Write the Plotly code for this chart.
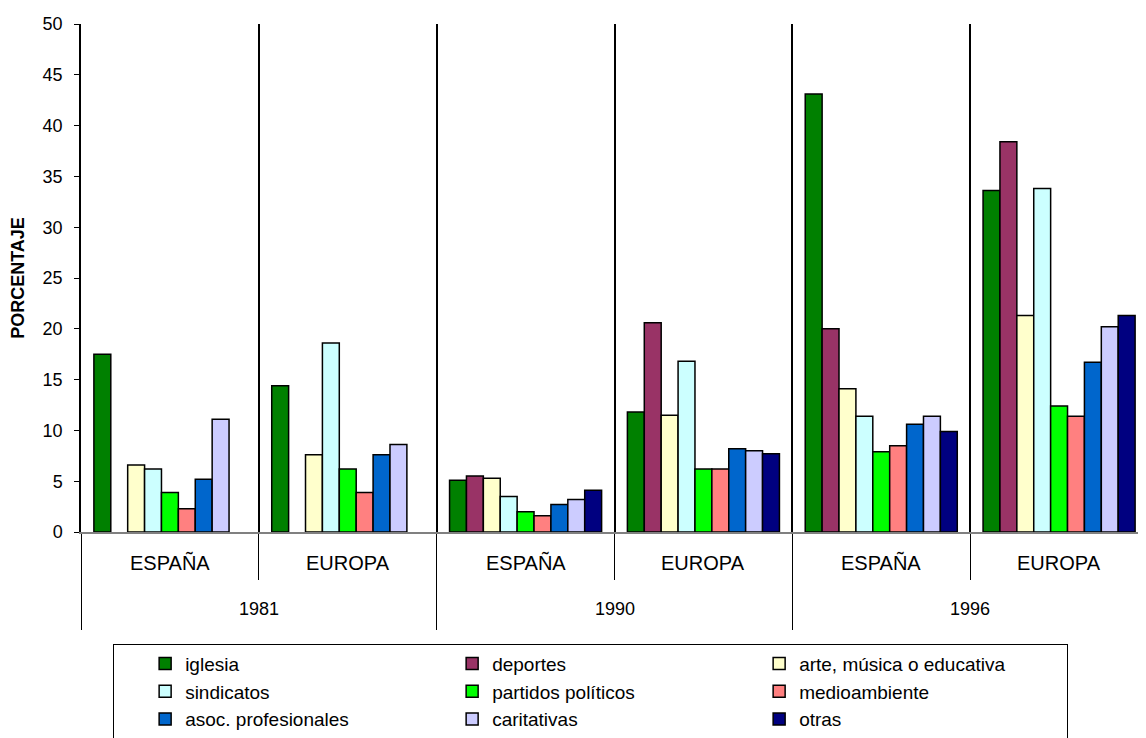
import plotly.graph_objects as go

years = ["1981", "1990", "1996"]
countries = ["ESPAÑA", "EUROPA"]
groups = ["1981 ESPAÑA", "1981 EUROPA", "1990 ESPAÑA", "1990 EUROPA", "1996 ESPAÑA", "1996 EUROPA"]

series_names = ["iglesia", "deportes", "arte, música o educativa", "sindicatos",
                "partidos políticos", "medioambiente", "asoc. profesionales",
                "caritativas", "otras"]

iglesia = [17.5, 14.4, 5.1, 11.8, 43.1, 33.6]
deportes = [None, None, 5.5, 20.6, 20.0, 38.4]
arte = [6.6, 7.6, 5.3, 11.5, 14.1, 21.3]
sindicatos = [6.2, 18.6, 3.5, 16.8, 11.4, 33.8]
partidos = [3.9, 6.2, 2.0, 6.2, 7.9, 12.4]
medioambiente = [2.3, 3.9, 1.6, 6.2, 8.5, 11.4]
asoc = [5.2, 7.6, 2.7, 8.2, 10.6, 16.7]
caritativas = [11.1, 8.6, 3.2, 8.0, 11.4, 20.2]
otras = [None, None, 4.1, 7.7, 9.9, 21.3]

series_values = [iglesia, deportes, arte, sindicatos, partidos, medioambiente,
                 asoc, caritativas, otras]
colors = ["#008000", "#993366", "#FFFFCC", "#CCFFFF", "#00FF00", "#FF8080",
          "#0066CC", "#CCCCFF", "#000080"]

y_ticks = [0, 5, 10, 15, 20, 25, 30, 35, 40, 45, 50]

xpos = list(range(len(groups)))

fig = go.Figure()
for name, vals, col in zip(series_names, series_values, colors):
    fig.add_trace(go.Bar(x=xpos, y=vals, name=name, marker_color=col,
                         marker_line_color="black", marker_line_width=1.5))

FONT = "Liberation Sans, Arial, sans-serif"

# boundaries between groups (derived from category positions)
year_bounds = [i - 0.5 for i in range(0, len(groups) + 1, 2)]
country_bounds = [i + 0.5 for i in range(0, len(groups), 2)]

fig.update_layout(
    width=1146, height=738,
    margin=dict(l=73, r=6, t=12, b=212),
    paper_bgcolor="white", plot_bgcolor="white",
    barmode="group", bargap=0.145, bargroupgap=0,
    font=dict(family=FONT, size=16, color="black"),
    xaxis=dict(
        range=[-0.5, len(groups) - 0.5],
        tickmode="array", tickvals=year_bounds, showticklabels=False,
        ticks="outside", ticklen=96, tickwidth=1, tickcolor="black",
        showgrid=True, gridcolor="black", gridwidth=1.5,
        showline=True, linecolor="#808080", linewidth=2,
        zeroline=False,
        minor=dict(tickmode="array", tickvals=country_bounds, ticks="outside",
                   ticklen=46, tickwidth=1, tickcolor="black",
                   showgrid=True, gridcolor="black", gridwidth=1.5),
    ),
    yaxis=dict(
        range=[0, 50], tickmode="array", tickvals=y_ticks,
        ticks="outside", ticklen=5, tickcolor="black", tickwidth=1,
        showline=True, linecolor="black", linewidth=1.5,
        showgrid=False, zeroline=False,
        tickfont=dict(size=18), ticklabelstandoff=8,
        title=dict(text="<b>PORCENTAJE</b>", font=dict(size=18), standoff=16),
    ),
    legend=dict(
        orientation="h", x=0.03, xanchor="left", y=-0.22, yanchor="top",
        bordercolor="black", borderwidth=1, bgcolor="white",
        entrywidth=262, font=dict(size=19), traceorder="normal",
        itemwidth=30, tracegroupgap=0,
        title=dict(text="\u00a0\u00a0\u00a0\u00a0", side="left", font=dict(size=19)),
    ),
)

# Category labels
for i, g in enumerate(groups):
    fig.add_annotation(x=i, y=-0.0603, xref="x", yref="paper",
                       text=countries[i % 2], showarrow=False,
                       font=dict(size=20), yanchor="middle")
for j, yr in enumerate(years):
    fig.add_annotation(x=2 * j + 0.5, y=-0.152, xref="x", yref="paper",
                       text=yr, showarrow=False,
                       font=dict(size=18), yanchor="middle")

fig.write_html("out.html")
